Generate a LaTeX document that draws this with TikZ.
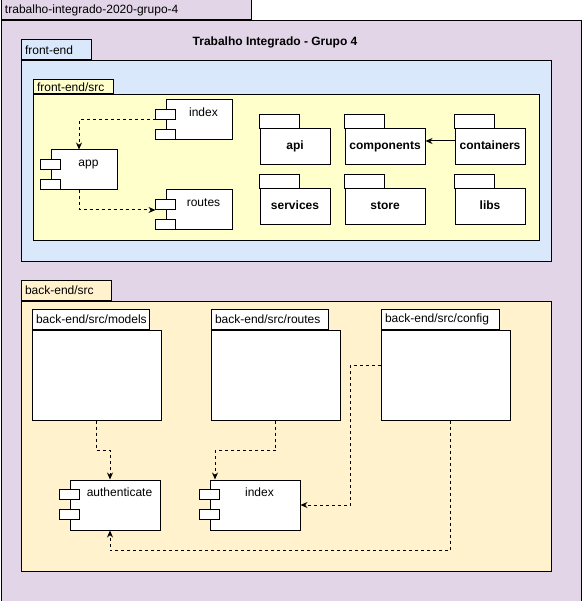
\documentclass[tikz,border=0pt]{standalone}
\usepackage{fontspec}
\setmainfont{Liberation Sans}
\usetikzlibrary{arrows.meta, positioning, calc}
\exhyphenpenalty=10000

\definecolor{lilas}{HTML}{E1D5E7}
\definecolor{azul}{HTML}{DAE8FC}
\definecolor{amarelo}{HTML}{FFFFCC}
\definecolor{creme}{HTML}{FFF2CC}

\tikzset{
  caixa/.style={draw, fill=#1, inner sep=0pt, anchor=north west},
  aba/.style 2 args={draw, fill=#1, text width=#2, align=left, anchor=south west,
    inner xsep=4pt, inner ysep=0pt, minimum height=20pt},
  comp/.style={draw, fill=white, minimum width=66pt, minimum height=40pt, inner sep=0pt,
    label={[anchor=base, xshift=4.5pt, yshift=-17pt]north:#1}},
  pacote/.style={draw, fill=white, minimum width=70pt, minimum height=36pt, inner sep=0pt,
    text height=9pt, text depth=3pt, font=\fontsize{12}{14}\selectfont\bfseries},
  pino/.style={draw, fill=white},
  dep/.style={dashed, dash pattern=on 3pt off 3pt, ->},
}

\begin{document}
\begin{tikzpicture}[x=1pt, y=-1pt, line width=1pt, >={Stealth[length=7pt, width=6pt]},
  font=\fontsize{12}{14}\selectfont]
  \useasboundingbox (0,0) rectangle (581,601);

  % 1. moldura geral
  \node[caixa=lilas, minimum width=580pt, minimum height=580pt] (geral) at (0.5,20.5) {};
  \node[aba={lilas}{242pt}] (geral-aba) at (geral.north west) {trabalho-integrado-2020-grupo-4};
  \node[font=\fontsize{12}{14}\selectfont\bfseries] (titulo) at (275,42) {Trabalho Integrado - Grupo 4};

  % 2. front-end
  \node[caixa=azul, minimum width=530pt, minimum height=200pt] (fe) at (20.5,60.5) {};
  \node[aba={azul}{62pt}] (fe-aba) at (fe.north west) {front-end};
  \node[caixa=amarelo, minimum width=506pt, minimum height=146pt] (fesrc) at (32.5,94.5) {};
  \node[aba={amarelo}{72pt}, minimum height=14pt] (fesrc-aba) at (fesrc.north west) {front-end/src};

  % componentes do front
  \node[comp=index] (fidx) at (199,120) {};
  \node[comp=app] (fapp) at (84,170) {};
  \node[comp=routes] (frts) at (199,210) {};

  % pacotes do front
  \node[pacote] (api) at (295,147) {api};
  \node[pacote, minimum width=80pt] (cmp) at (385,147) {components};
  \node[pacote] (ctn) at (490,147) {containers};
  \node[pacote] (svc) at (295,207) {services};
  \node[pacote, minimum width=80pt] (sto) at (385,207) {store};
  \node[pacote] (lib) at (490,207) {libs};
  \foreach \p in {api, cmp, ctn, svc, sto, lib}
    \draw[pino] (\p.north west) rectangle ++(40,-14);

  % 3. back-end
  \node[caixa=creme, minimum width=530pt, minimum height=270pt] (besrc) at (20.5,300.5) {};
  \node[aba={creme}{82pt}] (besrc-aba) at (besrc.north west) {back-end/src};

  \node[draw, fill=white, minimum width=129pt, minimum height=90pt] (bmod) at (96.5,375) {};
  \node[draw, fill=white, minimum width=129pt, minimum height=90pt] (brts) at (275.5,375) {};
  \node[draw, fill=white, minimum width=129pt, minimum height=90pt] (bcfg) at (445.5,375) {};
  \node[aba={white}{109pt}] (bmod-aba) at (bmod.north west) {back-end/src/models};
  \node[aba={white}{109pt}] (brts-aba) at (brts.north west) {back-end/src/routes};
  \node[aba={white}{110pt}] (bcfg-aba) at (bcfg.north west) {back-end/src/config};

  \node[comp=authenticate, minimum width=90pt, minimum height=50pt] (bauth) at (115,505) {};
  \node[comp=index, minimum width=90pt, minimum height=50pt] (bidx) at (255,505) {};

  % pinos dos componentes
  \foreach \c in {fidx, fapp, frts, bauth, bidx} {
    \draw[pino] ([xshift=-10pt, yshift=-10pt]\c.north west) rectangle ++(20,10);
    \draw[pino] ([xshift=-10pt, yshift=-30pt]\c.north west) rectangle ++(20,10);
  }

  % 4. dependencias
  \draw[dep] ([xshift=-10pt]fidx.west) -| ([xshift=-5pt]fapp.north);
  \draw[dep] ([xshift=-5pt]fapp.south) |- ([xshift=-10pt]frts.west);
  \draw[->] ([yshift=6pt]ctn.west) -- ([yshift=6pt]cmp.east);

  \draw[dep] (bmod.south) -- ++(0,30) -| ([xshift=-5pt]bauth.north);
  \draw[dep] (brts.south) -- ++(0,30) -| ([xshift=-40pt]bidx.north);
  \draw[dep] ([yshift=10pt]bcfg.west) -- ++(-30,0) |- (bidx.east);
  \draw[dep] ([xshift=4.5pt]bcfg.south) -- ++(0,130) -| ([xshift=-5pt]bauth.south);
\end{tikzpicture}
\end{document}
